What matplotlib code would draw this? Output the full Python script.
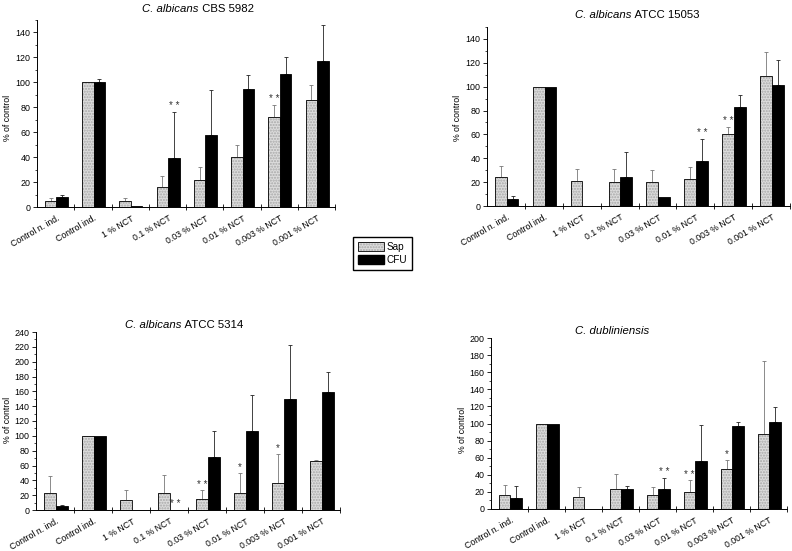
import matplotlib
matplotlib.use("Agg")
import matplotlib.pyplot as plt
import numpy as np
from matplotlib.patches import Patch
from matplotlib.legend_handler import HandlerTuple

plt.rcParams['font.family'] = ['Liberation Sans', 'DejaVu Sans']

categories = ["Control n. ind.", "Control ind.", "1 % NCT", "0.1 % NCT",
              "0.03 % NCT", "0.01 % NCT", "0.003 % NCT", "0.001 % NCT"]

# Panel 1: C. albicans CBS 5982
p1_sap = [5, 100, 5, 16, 22, 40, 72, 85.5]
p1_sap_err = [2, 0, 2, 9, 10, 10, 10, 12.5]
p1_cfu = [8, 100, 1, 39, 58, 95, 107, 117]
p1_cfu_err = [2, 3, 0, 37, 36, 11, 13, 29]
p1_stars = [(3, 1, "* *"), (6, 0, "* *")]

# Panel 2: C. albicans ATCC 15053
p2_sap = [24, 100, 21, 20, 20, 22.4, 60, 108.6]
p2_sap_err = [9.6, 0, 10, 11, 10, 10, 6, 20.4]
p2_cfu = [5.9, 100, 0, 24, 7.3, 37.5, 82.6, 101]
p2_cfu_err = [2.1, 0, 0, 21, 0, 18.5, 10, 21]
p2_stars = [(5, 1, "* *"), (6, 0, "* *")]

# Panel 3: C. albicans ATCC 5314
p3_sap = [22.5, 100, 13.5, 22.5, 15.3, 23, 36, 66.5]
p3_sap_err = [24, 0, 13.5, 25, 11, 26.5, 39, 1]
p3_cfu = [5.0, 100, 0, 0, 71, 106, 149, 159.5]
p3_cfu_err = [1.3, 0, 0, 0, 35, 48.6, 73, 26]
p3_stars = [(3, 1, "* *"), (4, 0, "* *"), (5, 0, "*"), (6, 0, "*")]

# Panel 4: C. dubliniensis
p4_sap = [16.4, 100, 14.4, 23.8, 16, 20, 47, 87.7]
p4_sap_err = [11.3, 0, 11, 17, 9.7, 13.5, 10.7, 85]
p4_cfu = [12.9, 100, 0, 23, 23.4, 56.5, 97.5, 101.3]
p4_cfu_err = [14.4, 0, 0, 4, 13, 41.5, 4.5, 17.5]
p4_stars = [(4, 1, "* *"), (5, 0, "* *"), (6, 0, "*")]

title_species = ["C. albicans", "C. albicans", "C. albicans", "C. dubliniensis"]
title_strain = ["CBS 5982", "ATCC 15053", "ATCC 5314", ""]
ylims = [150, 150, 240, 200]

W, H = 792, 551
fig = plt.figure(figsize=(W / 100, H / 100), dpi=100)
renderer = fig.canvas.get_renderer()

def px_axes(l, r, b, t):
    return fig.add_axes([l / W, 1 - b / H, (r - l) / W, (b - t) / H])

axes_px = [(37, 335, 207, 20), (487, 790, 206, 27), (36, 340, 510, 332), (491, 787, 509, 338)]
title_pos = [(198, 9), (637, 15), (184, 325), (612, 331)]
ylabel_pos = [(8, 118), (458, 118), (8, 420), (462, 430)]

panels = [
    (p1_sap, p1_sap_err, p1_cfu, p1_cfu_err, p1_stars),
    (p2_sap, p2_sap_err, p2_cfu, p2_cfu_err, p2_stars),
    (p3_sap, p3_sap_err, p3_cfu, p3_cfu_err, p3_stars),
    (p4_sap, p4_sap_err, p4_cfu, p4_cfu_err, p4_stars),
]

sap_face = '#dcdcdc'
sap_hatch = '#a8a8a8'
bw = 0.31
x = np.arange(len(categories)) + 0.52
title_fs = 8.2

for i, (sap, sap_err, cfu, cfu_err, stars) in enumerate(panels):
    ax = px_axes(*axes_px[i])
    ymax = ylims[i]
    sap = np.array(sap); cfu = np.array(cfu)
    sap_err = np.array(sap_err); cfu_err = np.array(cfu_err)
    xs = x - bw / 2
    xc = x + bw / 2
    ax.bar(xs, sap, bw, color=sap_face, edgecolor=sap_hatch, hatch='......', linewidth=0, zorder=2)
    ax.bar(xs, sap, bw, fill=False, edgecolor='black', linewidth=0.6, zorder=3)
    ax.bar(xc, cfu, bw, color='black', edgecolor='black', linewidth=0.6, zorder=3)
    ms = sap_err > 0
    ax.errorbar(xs[ms], sap[ms], yerr=[np.zeros(ms.sum()), sap_err[ms]], fmt='none',
                ecolor='#777777', elinewidth=0.6, capsize=1.5, capthick=0.6, zorder=1)
    mc = cfu_err > 0
    ax.errorbar(xc[mc], cfu[mc], yerr=[np.zeros(mc.sum()), cfu_err[mc]], fmt='none',
                ecolor='#222222', elinewidth=0.6, capsize=1.5, capthick=0.6, zorder=1)
    for (ci, si, lab) in stars:
        if si == 0:
            top = sap[ci] + sap_err[ci]; xx = xs[ci]
        else:
            top = cfu[ci] + cfu_err[ci]; xx = xc[ci]
        ax.text(xx, top + ymax * 0.005, lab, ha='center', va='bottom', fontsize=7, color='#333333')

    ax.set_xlim(0, len(categories))
    ax.set_ylim(0, ymax)
    ax.set_yticks(np.arange(0, ymax + 1, 20))
    ax.set_yticks(np.arange(0, ymax + 1, 10), minor=True)
    ax.tick_params(axis='y', which='major', labelsize=6.4, length=3, width=0.6, pad=1.5)
    ax.tick_params(axis='y', which='minor', length=1.8, width=0.5)
    ax.set_xticks(np.arange(1, len(categories) + 1))
    ax.set_xticklabels([])
    ax.tick_params(axis='x', which='major', direction='inout', length=5, width=0.6)
    ax.set_xticks(x, minor=True)
    ax.set_xticklabels(categories, minor=True, rotation=30, ha='right',
                       rotation_mode='anchor', fontsize=6.3)
    ax.tick_params(axis='x', which='minor', length=0, pad=5)
    for s in ['top', 'right']:
        ax.spines[s].set_visible(False)
    for s in ['left', 'bottom']:
        ax.spines[s].set_linewidth(0.7)

    tx, ty = title_pos[i]
    t1 = fig.text(0, 1 - ty / H, title_species[i], ha='left', va='center',
                  fontsize=title_fs, style='italic')
    t2 = fig.text(0, 1 - ty / H, (" " + title_strain[i]) if title_strain[i] else "",
                  ha='left', va='center', fontsize=title_fs)
    w1 = t1.get_window_extent(renderer).width
    w2 = t2.get_window_extent(renderer).width if title_strain[i] else 0
    start = tx - (w1 + w2) / 2
    t1.set_x(start / W)
    t2.set_x((start + w1) / W)

    lx, ly = ylabel_pos[i]
    fig.text(lx / W, 1 - ly / H, "% of control", ha='center', va='center',
             rotation=90, fontsize=6.3)

h_sap = (Patch(facecolor=sap_face, edgecolor=sap_hatch, hatch='......', linewidth=0),
         Patch(fill=False, edgecolor='black', linewidth=0.6))
h_cfu = Patch(facecolor='black', edgecolor='black')
fig.legend([h_sap, h_cfu], ["Sap", "CFU"], handler_map={tuple: HandlerTuple(ndivide=1, pad=0)},
           loc='upper left', bbox_to_anchor=(353 / W, 1 - 237 / H), fontsize=7.2,
           frameon=True, fancybox=False, edgecolor='black', framealpha=1,
           handlelength=2.6, handleheight=1.0, handletextpad=0.3, borderpad=0.45,
           labelspacing=0.35, borderaxespad=0)

fig.savefig("out.png", dpi=100)
